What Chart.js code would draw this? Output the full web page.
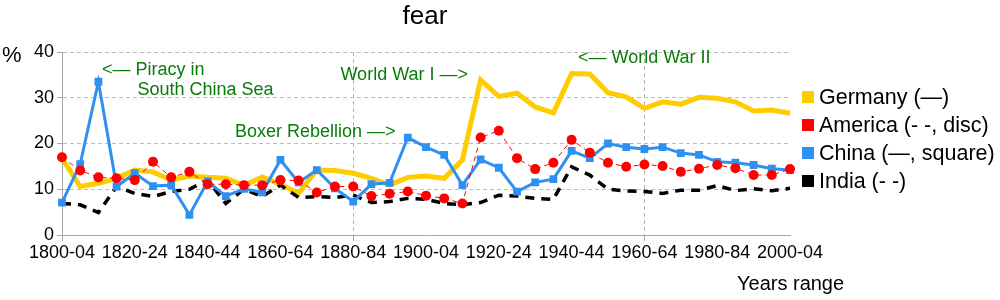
<!DOCTYPE html>
<html><head><meta charset="utf-8">
<script src="https://cdn.jsdelivr.net/npm/chart.js@4"></script>
<style>html,body{margin:0;padding:0;background:#fff}#wrap{width:1000px;height:300px}</style>
</head><body><div id="wrap"><canvas id="c" width="1000" height="300"></canvas></div>
<script>
const categories = ["1800-04","1805-09","1810-14","1815-19","1820-24","1825-29","1830-34","1835-39","1840-44","1845-49",
"1850-54","1855-59","1860-64","1865-69","1870-74","1875-79","1880-84","1885-89","1890-94","1895-99",
"1900-04","1905-09","1910-14","1915-19","1920-24","1925-29","1930-34","1935-39","1940-44","1945-49",
"1950-54","1955-59","1960-64","1965-69","1970-74","1975-79","1980-84","1985-89","1990-94","1995-99","2000-04"];
const germany = [16.8,10.6,11.3,12.4,14.2,13.8,12.0,12.9,12.6,12.4,10.8,12.7,11.1,9.1,14.2,14.1,13.5,12.4,10.9,12.6,12.9,12.4,16.4,33.9,30.3,31.0,28.0,26.7,35.3,35.2,31.1,30.2,27.7,29.1,28.6,30.1,29.9,29.1,27.1,27.3,26.6];
const america = [17.0,14.1,12.6,12.4,12.0,16.0,12.6,13.8,11.1,11.1,10.9,10.9,12.0,11.9,9.3,10.6,10.6,8.5,9.0,9.5,8.6,8.0,6.9,21.3,22.8,16.8,14.4,15.8,20.8,18.0,15.8,14.9,15.4,15.1,13.8,14.5,15.3,14.6,13.1,13.1,14.4];
const china = [7.1,15.5,33.5,10.6,13.5,10.7,10.9,4.4,11.7,8.5,10.1,9.3,16.4,11.5,14.2,10.2,7.3,11.1,11.4,21.3,19.2,17.5,10.9,16.5,14.7,9.5,11.5,12.2,18.4,16.8,20.0,19.2,18.8,19.2,17.9,17.5,16.0,15.8,15.3,14.5,14.2];
const india = [6.9,6.6,4.9,10.6,9.1,8.4,9.5,10.0,12.0,6.9,10.0,8.4,10.9,8.2,8.4,8.2,8.7,7.1,7.3,8.0,7.8,6.9,6.6,7.1,8.7,8.5,8.0,7.8,14.9,13.1,10.0,9.6,9.5,9.1,9.8,9.8,10.8,9.7,10.1,9.7,10.2];
const yTicks = [0,10,20,30,40];
const seriesNames = ["Germany (—)","America (- -, disc)","China (—, square)","India (- -)"];
const annotations = [
  {text:"<— Piracy in", x:2.2, y:36.1},
  {text:"South China Sea", x:4.15, y:31.7},
  {text:"World War I —>", x:15.3, y:35.0},
  {text:"Boxer Rebellion —>", x:9.5, y:22.5},
  {text:"<— World War II", x:28.35, y:38.7}
];

const GREEN = "#0b7a0b";
const FONT = "'Liberation Sans', Arial, sans-serif";

const extras = {
  id:'extras',
  afterDraw(chart){
    const ctx = chart.ctx, xs = chart.scales.x, ys = chart.scales.y;
    ctx.save();
    ctx.fillStyle = '#000';
    ctx.font = "26px " + FONT;
    ctx.textAlign = 'center'; ctx.textBaseline = 'middle';
    ctx.fillText("fear", 425, 17);
    ctx.font = "22px " + FONT;
    ctx.textAlign = 'left';
    ctx.fillText("%", 2, 56);
    ctx.font = "20px " + FONT;
    ctx.textAlign = 'left';
    ctx.fillText("Years range", 737, 284);
    ctx.fillStyle = GREEN;
    ctx.font = "18px " + FONT;
    ctx.textAlign = 'left'; ctx.textBaseline = 'middle';
    annotations.forEach(a => {
      ctx.fillText(a.text, xs.getPixelForValue(a.x), ys.getPixelForValue(a.y));
    });
    ctx.font = "21.5px " + FONT;
    chart.data.datasets.forEach((d,i) => {
      const cy = 97 + i*28;
      ctx.fillStyle = d.legendColor;
      ctx.fillRect(802, cy-6, 12, 12);
      ctx.fillStyle = '#000';
      ctx.fillText(d.label, 819, cy+1);
    });
    ctx.restore();
  }
};

new Chart(document.getElementById('c'), {
  type:'line',
  data:{
    labels: categories,
    datasets:[
      {label:seriesNames[0], data:germany, borderColor:'#FFCC00', legendColor:'#FFCC00', borderWidth:5, pointRadius:0, tension:0, order:4},
      {label:seriesNames[1], data:america, borderColor:'#FF0000', backgroundColor:'#FF0000', legendColor:'#FF0000', borderWidth:1, borderDash:[5,4], pointRadius:5, pointStyle:'circle', pointBorderWidth:0, tension:0, order:1},
      {label:seriesNames[2], data:china, borderColor:'#2E90F0', backgroundColor:'#2E90F0', legendColor:'#2E90F0', borderWidth:3, pointRadius:5.5, pointStyle:'rect', pointBorderWidth:0, tension:0, order:2},
      {label:seriesNames[3], data:india, borderColor:'#000000', legendColor:'#000000', borderWidth:3.5, borderDash:[9,7], pointRadius:0, tension:0, order:3}
    ]
  },
  options:{
    responsive:false, animation:false,
    layout:{padding:{top:52,right:210,left:0,bottom:0}},
    plugins:{legend:{display:false}, title:{display:false}, tooltip:{enabled:false}},
    scales:{
      x:{
        type:'category', offset:false,
        afterFit(s){ s.height = 65; },
        grid:{
          color:(c)=> (c.index % 4 === 0 ? '#b4b4b4' : 'rgba(0,0,0,0)'),
          drawTicks:true, tickLength:6, tickBorderDash:[], tickColor:(c)=> (c.index % 4 === 0 ? '#a8a8a8' : 'rgba(0,0,0,0)')
        },
        border:{display:true, color:'#a8a8a8', dash:[4,3], width:1},
        ticks:{autoSkip:false, maxRotation:0, minRotation:0, color:'#000', font:{family:FONT, size:18}, padding:1,
          callback:function(v,i){ return i % 4 === 0 ? categories[i] : null; }}
      },
      y:{
        min:0, max:40,
        afterFit(s){ s.width = 62; },
        afterBuildTicks(s){ s.ticks = [0,5,10,15,20,25,30,35,40].map(v=>({value:v})); },
        grid:{color:'#bdbdbd', tickLength:5, tickBorderDash:[], tickColor:'#a8a8a8'},
        border:{display:true, color:'#a8a8a8', dash:[4,3]},
        ticks:{color:'#000', font:{family:FONT, size:18}, padding:3,
          callback:(v)=> yTicks.includes(v) ? String(v) : ''}
      }
    }
  },
  plugins:[extras]
});
</script></body></html>
